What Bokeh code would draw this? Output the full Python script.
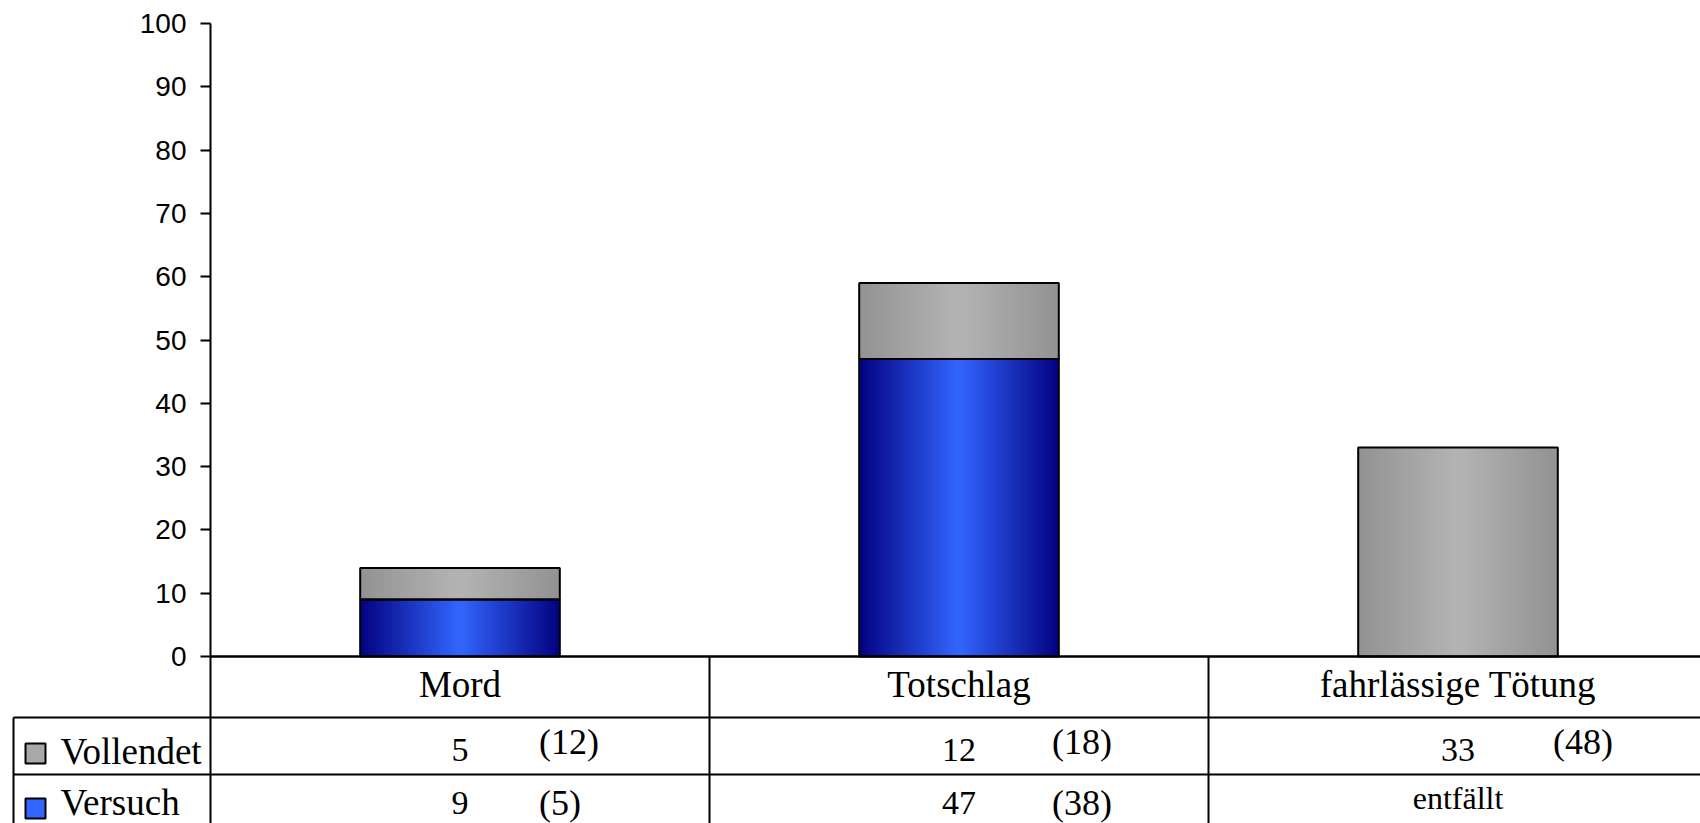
from bokeh.plotting import figure
from bokeh.models import Range1d, LinearAxis, FixedTicker, ColumnDataSource
from bokeh.core.properties import value
from bokeh.embed import file_html
from bokeh.resources import INLINE

# ---------------- data ----------------
categories = ["Mord", "Totschlag", "fahrlässige Tötung"]
series = ["Vollendet", "Versuch"]
vollendet = [5, 12, 33]
versuch = [9, 47, 0]
vollendet_vorjahr = [12, 18, 48]
versuch_vorjahr = [5, 38, None]
versuch_ersatztext = [None, None, "entfällt"]
y_ticks = [0, 10, 20, 30, 40, 50, 60, 70, 80, 90, 100]

# --------------- layout ---------------
W, H = 1700, 823
AXIS_X = 210          # x of the value axis (px)
ZERO_Y = 656          # y of value 0 (px)
TOP_Y = 23            # y of value 100 (px)
CAT_PX = 499          # width of one category column in px
PX_PER_UNIT = (ZERO_Y - TOP_Y) / 100.0
FRAME_TOP = 4
TEXT_DY = -13         # correction for the renderer's baseline placement


def dx(px):
    return (px - AXIS_X) / CAT_PX


def dy(py):
    return (ZERO_Y - py) / PX_PER_UNIT


def ty(py):
    return dy(py + TEXT_DY)


x_start = dx(0)
x_end = dx(W)
y_start = dy(H)
y_end = dy(FRAME_TOP)

SERIF = value("Liberation Serif")

p = figure(width=W, height=H, x_range=Range1d(x_start, x_end), y_range=Range1d(y_start, y_end),
           output_backend="svg", toolbar_location=None,
           x_axis_location=None, y_axis_location=None,
           min_border_left=0, min_border_right=0, min_border_top=FRAME_TOP, min_border_bottom=0)
p.outline_line_color = None
for g in p.grid:
    g.visible = False
p.background_fill_color = "white"
p.border_fill_color = "white"

# --------------- bars with horizontal gradient (strips) ---------------
BAR_W = 0.4
N = 50
BLUE_C, BLUE_E = (51, 102, 255), (2, 2, 128)
GRAY_C, GRAY_E = (180, 180, 180), (146, 146, 146)


def lerp(c0, c1, t):
    return "#%02x%02x%02x" % tuple(int(round(a + (b - a) * t)) for a, b in zip(c0, c1))


sx, sb, st, sc = [], [], [], []
ox, ob, ot = [], [], []
for i in range(len(categories)):
    stacks = [(0, versuch[i], BLUE_C, BLUE_E),
              (versuch[i], versuch[i] + vollendet[i], GRAY_C, GRAY_E)]
    for bot, top, cc, ce in stacks:
        if top <= bot:
            continue
        ox.append(i + 0.5); ob.append(bot); ot.append(top)
        for k in range(N):
            off = -BAR_W / 2 + (k + 0.5) * BAR_W / N
            t = abs(off) / (BAR_W / 2)
            sx.append(i + 0.5 + off); sb.append(bot); st.append(top); sc.append(lerp(cc, ce, t))

p.vbar(x="x", bottom="b", top="t", width=BAR_W / N * 1.15, fill_color="c", line_color=None,
       source=ColumnDataSource(dict(x=sx, b=sb, t=st, c=sc)))
p.vbar(x=ox, bottom=ob, top=ot, width=BAR_W, fill_color=None, line_color="black", line_width=2)

# --------------- table grid ---------------
ncat = len(categories)
row1 = dy(717)
row2 = dy(774)
left_border = dx(13)
p.segment(x0=[0], y0=[0], x1=[x_end], y1=[0], line_color="black", line_width=2.5)
p.segment(x0=[left_border, left_border], y0=[row1, row2], x1=[x_end, x_end], y1=[row1, row2],
          line_color="black", line_width=2)
p.segment(x0=list(range(1, ncat)) + [left_border], y0=[y_start] * ncat,
          x1=list(range(1, ncat)) + [left_border], y1=[0] * (ncat - 1) + [row1],
          line_color="black", line_width=2)

# value axis (library axis at a fixed location)
yax = LinearAxis(fixed_location=0, ticker=FixedTicker(ticks=y_ticks), bounds=(y_start, 100))
yax.major_tick_out = 10
yax.major_tick_in = 0
yax.minor_tick_out = 0
yax.minor_tick_in = 0
yax.axis_line_width = 2
yax.axis_line_color = "black"
yax.major_tick_line_width = 2
yax.major_tick_line_color = "black"
yax.major_label_text_font = "Liberation Sans"
yax.major_label_text_font_size = "28px"
yax.major_label_text_color = "black"
yax.major_label_standoff = 14
p.add_layout(yax, "left")

# --------------- table texts ---------------
cx = [i + 0.5 for i in range(ncat)]
p.text(x=cx, y=[ty(697)] * ncat, text=categories, text_align="center", text_baseline="alphabetic",
       text_font=SERIF, text_font_size="37px", text_color="black")

PREV_OFF = [79, 93, 95]
# Vollendet row
p.text(x=cx, y=[ty(762)] * ncat, text=[str(v) for v in vollendet], text_align="center",
       text_baseline="alphabetic", text_font=SERIF, text_font_size="34px", text_color="black")
p.text(x=cx, y=[ty(754)] * ncat, x_offset=PREV_OFF, text=["(%d)" % v for v in vollendet_vorjahr],
       text_align="left", text_baseline="alphabetic", text_font=SERIF, text_font_size="36px",
       text_color="black")
# Versuch row
vx, vt, px_, pt, po, ex, et = [], [], [], [], [], [], []
for i in range(ncat):
    if versuch_ersatztext[i]:
        ex.append(cx[i]); et.append(versuch_ersatztext[i])
    else:
        vx.append(cx[i]); vt.append(str(versuch[i]))
        if versuch_vorjahr[i] is not None:
            px_.append(cx[i]); pt.append("(%d)" % versuch_vorjahr[i]); po.append(PREV_OFF[i])
p.text(x=vx, y=[ty(815)] * len(vx), text=vt, text_align="center", text_baseline="alphabetic",
       text_font=SERIF, text_font_size="34px", text_color="black")
p.text(x=px_, y=[ty(815)] * len(px_), x_offset=po, text=pt, text_align="left",
       text_baseline="alphabetic", text_font=SERIF, text_font_size="36px", text_color="black")
p.text(x=ex, y=[ty(810)] * len(ex), text=et, text_align="center", text_baseline="alphabetic",
       text_font=SERIF, text_font_size="32px", text_color="black")

# legend column
p.rect(x=[dx(35)] * 2, y=[dy(753), dy(808)], width=20, height=20, width_units="screen",
       height_units="screen", fill_color=["#a8a8a8", "#3366ff"], line_color="black", line_width=2)
p.text(x=[dx(60)] * 2, y=[ty(764), ty(815)], text=series, text_align="left",
       text_baseline="alphabetic", text_font=SERIF, text_font_size="37px", text_color="black")

open("out.html", "w").write(file_html(p, INLINE))
